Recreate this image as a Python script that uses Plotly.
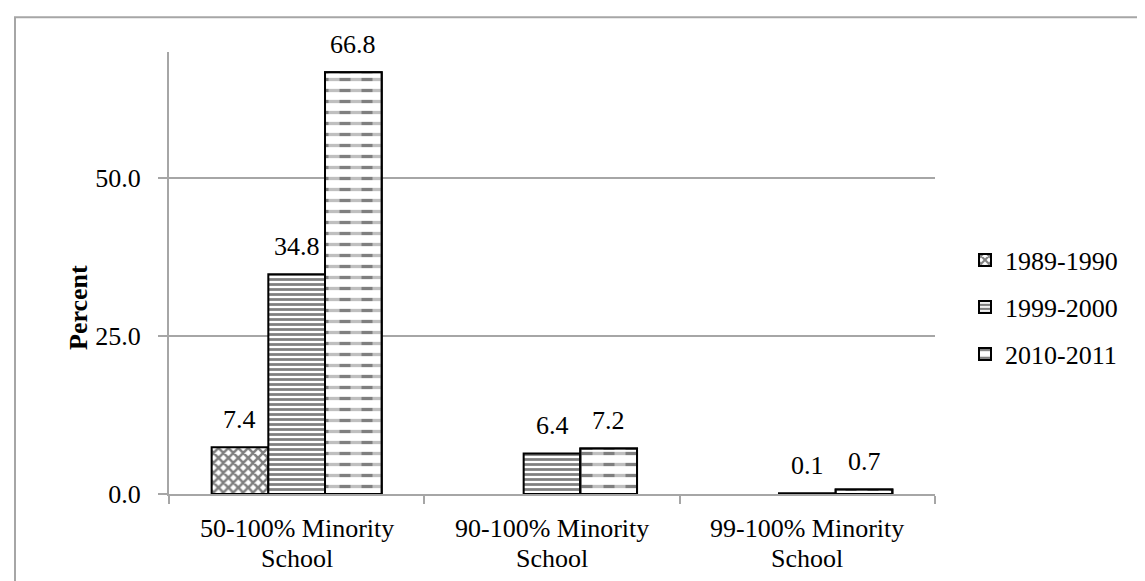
import plotly.graph_objects as go

categories = ["50-100% Minority School", "90-100% Minority School", "99-100% Minority School"]
label_line1 = ["50-100% Minority", "90-100% Minority", "99-100% Minority"]
label_line2 = ["School", "School", "School"]
series_names = ["1989-1990", "1999-2000", "2010-2011"]
v1989 = [7.4, None, None]
v1999 = [34.8, 6.4, 0.1]
v2010 = [66.8, 7.2, 0.7]
y_ticks = [0, 25, 50]
y_ticklabels = ["0.0", "25.0", "50.0"]

FONT = "Liberation Serif"
FS = 26
GRAY = "#a6a6a6"

W, H = 1145, 581
ML, MR, MT, MB = 161, 218, 44, 95
BARGAP = 0.334
plot_w = W - ML - MR
plot_h = H - MT - MB
bar_px = plot_w / len(categories) * (1 - BARGAP) / 3

def py(px):
    """pixel row -> paper y"""
    return (H - MB - px) / plot_h

def px_x(px):
    return (px - ML) / plot_w

fig = go.Figure()

fig.add_trace(go.Bar(
    x=categories, y=v1989, name=series_names[0], offsetgroup="a", legend="legend",
    marker=dict(color="white", line=dict(color="black", width=2),
                pattern=dict(shape="x", size=7, solidity=0.6, fgcolor="black", bgcolor="white"))))
fig.add_trace(go.Bar(
    x=categories, y=v1999, name=series_names[1], offsetgroup="b", legend="legend2",
    marker=dict(color="white", line=dict(color="black", width=2),
                pattern=dict(shape="-", size=5, solidity=0.55, fgcolor="black", bgcolor="white"))))
fig.add_trace(go.Bar(
    x=categories, y=v2010, name=series_names[2], offsetgroup="c", legend="legend3",
    marker=dict(color="white", line=dict(color="black", width=2),
                pattern=dict(shape="-", size=11, solidity=0.3, fgcolor="black", bgcolor="white"))))
# white vertical stripes over the lines to make them dashed
fig.add_trace(go.Bar(
    x=categories, y=v2010, name=series_names[2], offsetgroup="c", showlegend=False,
    hoverinfo="skip",
    marker=dict(color="rgba(0,0,0,0)", line=dict(color="black", width=2),
                pattern=dict(shape="|", size=22, solidity=0.5, fgcolor="white",
                             bgcolor="rgba(0,0,0,0)"))))

annotations = []
# data labels
for si, vals in enumerate([v1989, v1999, v2010]):
    for ci, v in enumerate(vals):
        if v is None:
            continue
        annotations.append(dict(
            x=categories[ci], y=v, xref="x", yref="y", text=f"{v:.1f}",
            showarrow=False, xshift=(si - 1) * bar_px, yshift=28,
            xanchor="center", yanchor="middle",
            font=dict(family=FONT, size=FS, color="black")))
# category labels (two lines each)
for ci, c in enumerate(categories):
    annotations.append(dict(x=c, y=0, xref="x", yref="paper", text=label_line1[ci],
                            showarrow=False, yshift=-34, yanchor="middle",
                            font=dict(family=FONT, size=FS, color="black")))
    annotations.append(dict(x=c, y=0, xref="x", yref="paper", text=label_line2[ci],
                            showarrow=False, yshift=-64, yanchor="middle",
                            font=dict(family=FONT, size=FS, color="black")))
annotations.append(dict(text="<b>Percent</b>", xref="paper", yref="paper",
                        x=px_x(70), y=py(300), textangle=-90, showarrow=False,
                        xanchor="center", yanchor="middle",
                        font=dict(family=FONT, size=FS, color="black")))

leg_common = dict(x=px_x(957), xanchor="left", yanchor="middle",
                  font=dict(family=FONT, size=FS, color="black"), itemwidth=30,
                  bgcolor="rgba(0,0,0,0)")

fig.update_layout(
    width=W, height=H,
    barmode="group", bargap=BARGAP, bargroupgap=0,
    plot_bgcolor="white", paper_bgcolor="white",
    margin=dict(l=ML, r=MR, t=MT, b=MB),
    font=dict(family=FONT, size=FS, color="black"),
    showlegend=True,
    legend=dict(y=py(252), **leg_common),
    legend2=dict(y=py(299), **leg_common),
    legend3=dict(y=py(346), **leg_common),
    xaxis=dict(showline=True, linecolor=GRAY, linewidth=2, tickson="boundaries",
               ticks="outside", ticklen=8, tickcolor=GRAY, tickwidth=2,
               showticklabels=False, showgrid=False),
    yaxis=dict(range=[0, 70], tickvals=y_ticks, ticktext=y_ticklabels,
               showline=True, linecolor=GRAY, linewidth=2,
               ticks="outside", ticklen=9, tickcolor=GRAY, tickwidth=2,
               ticklabelstandoff=12,
               showgrid=True, gridcolor=GRAY, gridwidth=2, zeroline=False,
               tickfont=dict(family=FONT, size=FS)),
    annotations=annotations,
    shapes=[dict(type="rect", xref="paper", yref="paper",
                 x0=px_x(7), x1=px_x(1160), y0=py(600), y1=py(9.3),
                 line=dict(color=GRAY, width=2), fillcolor="rgba(0,0,0,0)", layer="below")],
)

fig.write_html("out.html")
